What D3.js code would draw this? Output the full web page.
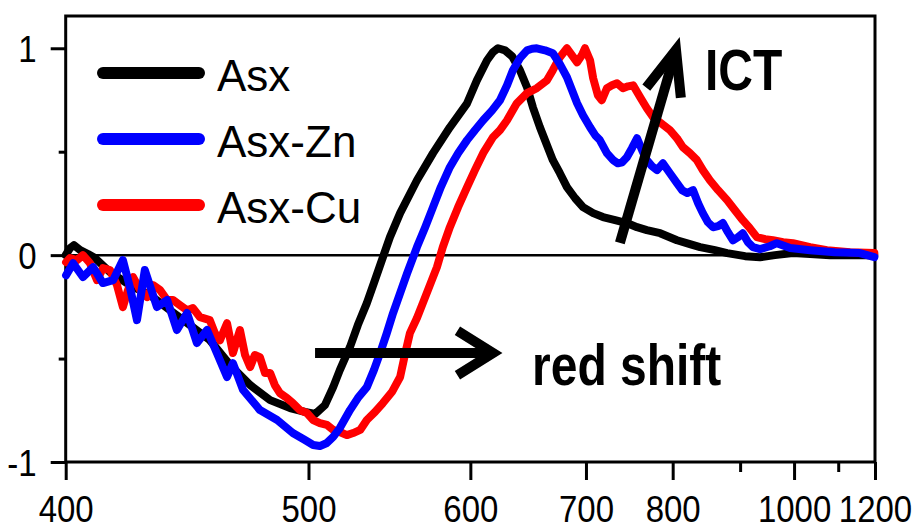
<!DOCTYPE html>
<html>
<head>
<meta charset="utf-8">
<script src="https://cdn.jsdelivr.net/npm/d3@7"></script>
<style>
  html, body { margin: 0; padding: 0; background: #fff; }
  svg { display: block; }
</style>
</head>
<body>
<svg id="chart" width="914" height="528"></svg>
<script>
// Normalised difference spectra, sampled on photon energy (eV).
const asxEnergy = [3.100,3.089,3.079,3.063,3.043,3.025,2.987,2.936,2.885,2.834,2.783,2.732,2.680,2.629,2.578,2.527,2.489,2.463,2.438,2.417,2.400,2.374,2.354,2.331,2.313,2.297,2.272,2.246,2.203,2.162,2.119,2.075,2.050,2.024,2.009,1.996,1.978,1.960,1.940,1.922,1.907,1.889,1.871,1.856,1.838,1.820,1.799,1.779,1.753,1.728,1.697,1.667,1.641,1.616,1.582,1.539,1.506,1.480,1.442,1.411,1.365,1.327,1.289,1.243,1.199,1.148,1.097,1.035];
const asxSignal = [0,0.034,0.048,0.024,0.005,-0.014,-0.082,-0.145,-0.193,-0.266,-0.338,-0.411,-0.531,-0.628,-0.701,-0.739,-0.758,-0.768,-0.725,-0.638,-0.556,-0.444,-0.338,-0.232,-0.135,-0.048,0.087,0.203,0.362,0.493,0.618,0.734,0.845,0.942,0.981,1.000,0.990,0.961,0.894,0.812,0.715,0.618,0.531,0.459,0.396,0.329,0.275,0.232,0.203,0.184,0.169,0.155,0.135,0.121,0.106,0.072,0.053,0.039,0.024,0.010,-0.005,-0.010,0,0.010,0.005,0,0,0];

const znEnergy = [3.099,3.081,3.056,3.030,3.005,2.979,2.954,2.936,2.918,2.898,2.867,2.841,2.816,2.790,2.765,2.739,2.714,2.688,2.673,2.647,2.604,2.560,2.520,2.489,2.468,2.451,2.433,2.417,2.400,2.374,2.354,2.331,2.313,2.297,2.280,2.264,2.246,2.228,2.203,2.182,2.162,2.142,2.119,2.098,2.075,2.055,2.034,2.011,1.991,1.973,1.958,1.940,1.922,1.909,1.897,1.876,1.856,1.838,1.820,1.807,1.794,1.779,1.761,1.748,1.736,1.718,1.702,1.690,1.679,1.667,1.654,1.641,1.628,1.616,1.603,1.590,1.575,1.557,1.539,1.526,1.513,1.498,1.485,1.473,1.460,1.447,1.434,1.422,1.409,1.396,1.383,1.371,1.358,1.345,1.327,1.302,1.284,1.250,1.199,1.136,1.072,1.035];
const znSignal = [-0.097,-0.039,-0.106,-0.058,-0.135,-0.121,-0.024,-0.155,-0.314,-0.072,-0.251,-0.217,-0.362,-0.280,-0.425,-0.362,-0.473,-0.589,-0.522,-0.652,-0.749,-0.797,-0.860,-0.894,-0.918,-0.923,-0.908,-0.879,-0.836,-0.749,-0.691,-0.638,-0.556,-0.473,-0.377,-0.280,-0.184,-0.087,0.039,0.135,0.232,0.329,0.425,0.493,0.556,0.604,0.652,0.700,0.749,0.821,0.894,0.952,0.990,0.998,1.000,0.990,0.976,0.923,0.860,0.797,0.734,0.676,0.618,0.580,0.556,0.493,0.459,0.444,0.449,0.473,0.517,0.565,0.507,0.459,0.430,0.411,0.444,0.396,0.348,0.314,0.300,0.314,0.251,0.203,0.159,0.135,0.140,0.155,0.111,0.072,0.087,0.106,0.063,0.039,0.029,0.043,0.058,0.034,0.024,0.014,0.010,-0.010];

const cuEnergy = [3.099,3.089,3.071,3.056,3.038,3.020,3.005,2.987,2.969,2.954,2.941,2.928,2.910,2.892,2.877,2.859,2.841,2.826,2.808,2.790,2.775,2.757,2.732,2.719,2.706,2.688,2.673,2.655,2.642,2.629,2.617,2.604,2.591,2.578,2.566,2.553,2.535,2.520,2.502,2.484,2.468,2.451,2.433,2.417,2.400,2.382,2.366,2.348,2.331,2.310,2.290,2.267,2.246,2.234,2.221,2.203,2.188,2.170,2.152,2.137,2.119,2.098,2.075,2.055,2.034,2.009,1.991,1.973,1.948,1.922,1.897,1.871,1.856,1.838,1.820,1.807,1.794,1.782,1.774,1.761,1.753,1.741,1.731,1.718,1.705,1.692,1.677,1.664,1.651,1.633,1.616,1.600,1.580,1.557,1.539,1.524,1.506,1.488,1.473,1.455,1.434,1.411,1.391,1.371,1.353,1.335,1.314,1.294,1.268,1.243,1.199,1.156,1.097,1.035];
const cuSignal = [-0.034,-0.014,-0.024,0,-0.039,-0.121,-0.063,-0.072,-0.145,-0.251,-0.169,-0.106,-0.169,-0.203,-0.145,-0.169,-0.217,-0.217,-0.242,-0.266,-0.256,-0.300,-0.314,-0.377,-0.411,-0.329,-0.473,-0.362,-0.483,-0.541,-0.483,-0.493,-0.570,-0.570,-0.628,-0.667,-0.691,-0.715,-0.749,-0.763,-0.797,-0.812,-0.821,-0.845,-0.855,-0.870,-0.860,-0.845,-0.797,-0.758,-0.715,-0.662,-0.589,-0.483,-0.377,-0.304,-0.232,-0.145,-0.058,0.039,0.135,0.232,0.329,0.411,0.493,0.570,0.604,0.652,0.734,0.783,0.807,0.845,0.894,0.957,1.000,0.966,0.932,0.966,1.000,0.942,0.855,0.773,0.749,0.807,0.821,0.831,0.807,0.816,0.821,0.763,0.710,0.667,0.638,0.604,0.565,0.522,0.493,0.459,0.411,0.362,0.314,0.266,0.217,0.169,0.130,0.087,0.077,0.072,0.063,0.058,0.039,0.024,0.014,0.010];

const seriesNames  = ["Asx", "Asx-Zn", "Asx-Cu"];
const seriesColors = ["#000000", "#0000ff", "#ff0000"];

// Wavelength ticks (nm) shown on the energy axis
const wavelengthTicks      = [400, 500, 600, 700, 800, 1000, 1200];
const wavelengthMinorTicks = [900, 1100];
const signalTicks          = [-1, 0, 1];
const signalMinorTicks     = [-0.5, 0.5];

const HC = 1240; // eV·nm

// Annotation anchors: [wavelength nm, signal]
const shiftArrow = { tail: [503.4, -0.473], tip: [617.3, -0.473] };
const ictArrow   = { tail: [736, 0.059],    tip: [804.4, 0.992] };
const shiftLabel = { text: "red shift", at: [649.5, -0.627] };
const ictLabel   = { text: "ICT",       at: [845, 0.798] };

const svg = d3.select("#chart");
const plotLeft = 65.7, plotRight = 875, plotTop = 16, plotBottom = 462;

const x = d3.scaleLinear().domain([HC / 400, HC / 1200]).range([plotLeft, plotRight]);
const y = d3.scaleLinear().domain([-1, 1.156]).range([plotBottom, plotTop]);
const xw = nm => x(HC / nm);

const FONT = "'Liberation Sans', Arial, Helvetica, sans-serif";

// Frame
svg.append("rect")
  .attr("x", plotLeft).attr("y", plotTop)
  .attr("width", plotRight - plotLeft).attr("height", plotBottom - plotTop)
  .attr("fill", "none").attr("stroke", "#000").attr("stroke-width", 3);

// Bottom axis, major ticks with wavelength labels
const xAxis = svg.append("g")
  .attr("transform", `translate(0,${plotBottom})`)
  .call(d3.axisBottom(x)
    .tickValues(wavelengthTicks.map(w => HC / w))
    .tickSize(18)
    .tickFormat(d => String(Math.round(HC / d))));
xAxis.select(".domain").remove();
xAxis.selectAll(".tick line").attr("stroke", "#000").attr("stroke-width", 3);
xAxis.selectAll(".tick text")
  .attr("y", 0).attr("dy", 0)
  .attr("transform", "translate(0,60) scale(1,1.14)")
  .attr("font-family", FONT).attr("font-size", 33).attr("fill", "#000");

const xMinor = svg.append("g")
  .attr("transform", `translate(0,${plotBottom})`)
  .call(d3.axisBottom(x)
    .tickValues(wavelengthMinorTicks.map(w => HC / w))
    .tickSize(10).tickFormat(""));
xMinor.select(".domain").remove();
xMinor.selectAll(".tick line").attr("stroke", "#000").attr("stroke-width", 3);

// Left axis
const yAxis = svg.append("g")
  .attr("transform", `translate(${plotLeft},0)`)
  .call(d3.axisLeft(y).tickValues(signalTicks).tickSize(15)
    .tickFormat(d => String(d)));
yAxis.select(".domain").remove();
yAxis.selectAll(".tick line").attr("stroke", "#000").attr("stroke-width", 3);
yAxis.selectAll(".tick text")
  .attr("x", 0).attr("dy", 0)
  .attr("text-anchor", "end")
  .attr("transform", "translate(-29,13.5) scale(1,1.14)")
  .attr("font-family", FONT).attr("font-size", 33).attr("fill", "#000");

const yMinor = svg.append("g")
  .attr("transform", `translate(${plotLeft},0)`)
  .call(d3.axisLeft(y).tickValues(signalMinorTicks).tickSize(7).tickFormat(""));
yMinor.select(".domain").remove();
yMinor.selectAll(".tick line").attr("stroke", "#000").attr("stroke-width", 3);

// Zero line
svg.append("line")
  .attr("x1", plotLeft).attr("x2", plotRight)
  .attr("y1", y(0)).attr("y2", y(0))
  .attr("stroke", "#000").attr("stroke-width", 2.5);

// Spectra
const series = [
  { name: seriesNames[0], color: seriesColors[0], e: asxEnergy, v: asxSignal },
  { name: seriesNames[1], color: seriesColors[1], e: znEnergy,  v: znSignal },
  { name: seriesNames[2], color: seriesColors[2], e: cuEnergy,  v: cuSignal }
];
const line = d3.line().x(d => x(d[0])).y(d => y(d[1]));
const drawOrder = [0, 2, 1];
drawOrder.forEach(i => {
  const s = series[i];
  svg.append("path")
    .datum(s.e.map((e, k) => [e, s.v[k]]))
    .attr("d", line)
    .attr("fill", "none")
    .attr("stroke", s.color)
    .attr("stroke-width", 8)
    .attr("stroke-linejoin", "round")
    .attr("stroke-linecap", "round");
});

// Arrows
function arrow(a, halfAngleDeg, armLen) {
  const x0 = xw(a.tail[0]), y0 = y(a.tail[1]);
  const x1 = xw(a.tip[0]),  y1 = y(a.tip[1]);
  const ang = Math.atan2(y0 - y1, x0 - x1);
  const h = halfAngleDeg * Math.PI / 180;
  const p1 = [x1 + armLen * Math.cos(ang + h), y1 + armLen * Math.sin(ang + h)];
  const p2 = [x1 + armLen * Math.cos(ang - h), y1 + armLen * Math.sin(ang - h)];
  const g = svg.append("g").attr("stroke", "#000").attr("stroke-width", 10).attr("fill", "none");
  g.append("line").attr("x1", x0).attr("y1", y0).attr("x2", x1).attr("y2", y1);
  g.append("path")
    .attr("d", `M${p1[0]},${p1[1]}L${x1},${y1}L${p2[0]},${p2[1]}`)
    .attr("stroke-linejoin", "miter");
}
arrow(shiftArrow, 32, 42);
arrow(ictArrow, 22, 48);

// Annotation labels
[shiftLabel, ictLabel].forEach(l => {
  svg.append("text")
    .attr("transform", `translate(${xw(l.at[0])},${y(l.at[1])}) scale(1,1.2)`)
    .attr("font-family", FONT).attr("font-weight", "bold").attr("font-size", 48)
    .attr("fill", "#000")
    .text(l.text);
});

// Legend
const legend = svg.append("g");
series.forEach((s, i) => {
  const ly = 73 + i * 66;
  legend.append("line")
    .attr("x1", 103).attr("x2", 199).attr("y1", ly).attr("y2", ly)
    .attr("stroke", s.color).attr("stroke-width", 12).attr("stroke-linecap", "round");
  legend.append("text")
    .attr("x", 217).attr("y", ly + 18)
    .attr("font-family", FONT).attr("font-size", 44).attr("fill", "#000")
    .text(s.name);
});
</script>
</body>
</html>
